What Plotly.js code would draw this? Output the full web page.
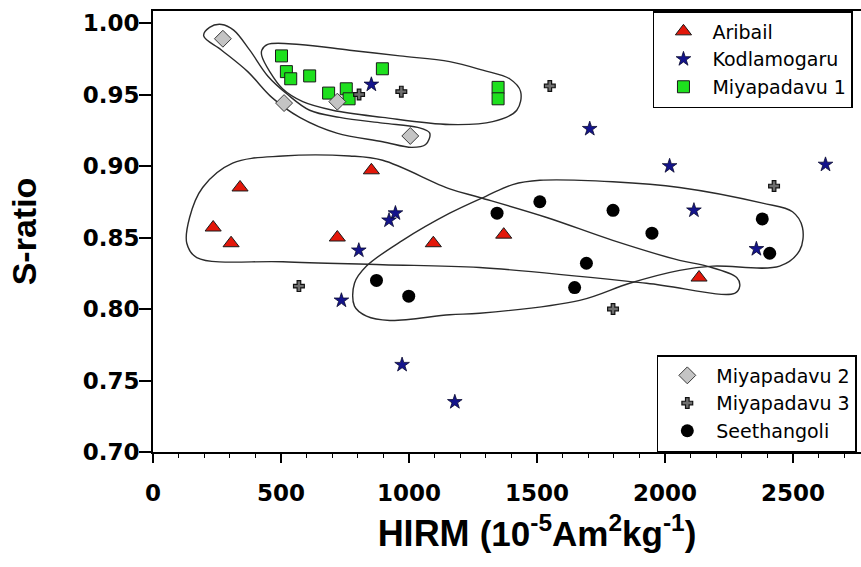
<!DOCTYPE html>
<html>
<head>
<meta charset="utf-8">
<script src="https://cdn.plot.ly/plotly-3.0.1.min.js"></script>
<style>
html, body { margin: 0; padding: 0; overflow: hidden; background: #ffffff; }
#chart { width: 940px; height: 567px; }
</style>
</head>
<body>
<div id="chart"></div>
<script>
// ---- data ----
const seriesNames = ["Aribail", "Kodlamogaru", "Miyapadavu 1", "Miyapadavu 2", "Miyapadavu 3", "Seethangoli"];

const aribailX = [340, 235, 305, 853, 720, 1095, 1370, 2133];
const aribailY = [0.885, 0.857, 0.846, 0.897, 0.850, 0.846, 0.852, 0.822];

const kodlamogaruX = [853, 1706, 2018, 2627, 2113, 2357, 947, 922, 804, 736, 973, 1179];
const kodlamogaruY = [0.957, 0.926, 0.900, 0.901, 0.869, 0.842, 0.867, 0.862, 0.841, 0.806, 0.761, 0.735];

const miyapadavu1X = [502, 521, 538, 612, 686, 755, 766, 896, 1348, 1348];
const miyapadavu1Y = [0.977, 0.966, 0.961, 0.963, 0.951, 0.954, 0.947, 0.968, 0.955, 0.947];

const miyapadavu2X = [273, 512, 720, 1005];
const miyapadavu2Y = [0.989, 0.944, 0.945, 0.921];

const miyapadavu3X = [805, 970, 1550, 2426, 570, 1797];
const miyapadavu3Y = [0.950, 0.952, 0.956, 0.886, 0.816, 0.800];

const seethangoliX = [1344, 1511, 1797, 1949, 2380, 2409, 1693, 1647, 873, 999];
const seethangoliY = [0.867, 0.875, 0.869, 0.853, 0.863, 0.839, 0.832, 0.815, 0.820, 0.809];

// hand-drawn group outlines (vertices)
const outlineM2X = [198, 221, 268, 315, 378, 448, 526, 612, 729, 897, 1034, 1081, 1065, 1011, 897, 718, 573, 464, 370, 268, 198];
const outlineM2Y = [0.991, 0.997, 0.999, 0.995, 0.981, 0.963, 0.950, 0.939, 0.934, 0.930, 0.927, 0.923, 0.915, 0.913, 0.917, 0.923, 0.934, 0.948, 0.966, 0.981, 0.991];

const outlineM1X = [425, 448, 573, 768, 964, 1159, 1288, 1393, 1436, 1421, 1327, 1159, 897, 702, 585, 506, 456, 425, 425];
const outlineM1Y = [0.981, 0.985, 0.985, 0.981, 0.977, 0.973, 0.967, 0.961, 0.952, 0.939, 0.931, 0.929, 0.934, 0.939, 0.945, 0.954, 0.966, 0.977, 0.981];

const outlineArX = [132, 143, 194, 311, 507, 768, 897, 1159, 1276, 1538, 1796, 2057, 2163, 2280, 2292, 2272, 1928, 1276, 897, 507, 171, 132];
const outlineArY = [0.846, 0.864, 0.885, 0.902, 0.907, 0.907, 0.904, 0.884, 0.878, 0.864, 0.848, 0.834, 0.830, 0.822, 0.816, 0.811, 0.818, 0.829, 0.831, 0.833, 0.836, 0.846];

const outlineSeX = [1302, 1405, 1511, 1796, 2057, 2381, 2498, 2537, 2526, 2448, 2187, 2057, 1862, 1667, 1276, 1159, 925, 834, 787, 787, 834, 975, 1159, 1302];
const outlineSeY = [0.879, 0.887, 0.890, 0.889, 0.885, 0.874, 0.868, 0.857, 0.841, 0.830, 0.830, 0.827, 0.818, 0.806, 0.797, 0.796, 0.792, 0.795, 0.802, 0.818, 0.830, 0.848, 0.867, 0.879];

const xTickVals = [0, 500, 1000, 1500, 2000, 2500];
const yTickVals = [0.70, 0.75, 0.80, 0.85, 0.90, 0.95, 1.00];

// ---- traces ----
function outline(x, y) {
  return { x: x, y: y, type: 'scatter', mode: 'lines', showlegend: false, hoverinfo: 'skip',
           line: { color: '#2b2b2b', width: 1.4, shape: 'spline', smoothing: 1.0 } };
}

const traces = [
  outline(outlineM2X, outlineM2Y),
  outline(outlineM1X, outlineM1Y),
  outline(outlineArX, outlineArY),
  outline(outlineSeX, outlineSeY),
  { name: seriesNames[0], x: aribailX, y: aribailY, type: 'scatter', mode: 'markers', legend: 'legend',
    marker: { symbol: 'triangle-up', size: 14, color: '#e3170a', line: { color: '#1a1a1a', width: 1 } } },
  { name: seriesNames[1], x: kodlamogaruX, y: kodlamogaruY, type: 'scatter', mode: 'markers', legend: 'legend',
    marker: { symbol: 'star', size: 11, color: '#14148c', line: { color: '#0a0a30', width: 0.8 } } },
  { name: seriesNames[2], x: miyapadavu1X, y: miyapadavu1Y, type: 'scatter', mode: 'markers', legend: 'legend',
    marker: { symbol: 'square', size: 12, color: '#1ee01e', line: { color: '#1a1a1a', width: 1 } } },
  { name: seriesNames[3], x: miyapadavu2X, y: miyapadavu2Y, type: 'scatter', mode: 'markers', legend: 'legend2',
    marker: { symbol: 'diamond', size: 13, color: '#c4c4c4', line: { color: '#3a3a3a', width: 1 } } },
  { name: seriesNames[4], x: miyapadavu3X, y: miyapadavu3Y, type: 'scatter', mode: 'markers', legend: 'legend2',
    marker: { symbol: 'cross', size: 9, color: '#6e6e6e', line: { color: '#111111', width: 1.2 } } },
  { name: seriesNames[5], x: seethangoliX, y: seethangoliY, type: 'scatter', mode: 'markers', legend: 'legend2',
    marker: { symbol: 'circle', size: 13, color: '#000000', line: { color: '#000000', width: 0 } } }
];

const tickFont = { family: 'DejaVu Sans', size: 23, color: '#000', weight: 'bold' };
const legendFont = { family: 'DejaVu Sans', size: 19, color: '#000' };

const layout = {
  width: 940, height: 567,
  margin: { l: 153, r: 19, t: 11, b: 115, autoexpand: false },
  paper_bgcolor: '#fff', plot_bgcolor: '#fff',
  showlegend: true,
  xaxis: {
    range: [0, 3000], tickvals: xTickVals, ticktext: xTickVals.map(String),
    showgrid: false, zeroline: false, showline: true, linecolor: '#000', linewidth: 2, mirror: true,
    ticks: 'outside', ticklen: 9, tickwidth: 2, tickcolor: '#000', tickfont: tickFont, ticklabelstandoff: 10,
    minor: { dtick: 100, tick0: 0, ticks: 'outside', ticklen: 4, tickwidth: 1, tickcolor: '#000', showgrid: false },
    title: { text: 'HIRM <span style="font-size:35px">(10<sup>-5</sup>Am<sup>2</sup>kg<sup>-1</sup>)</span>',
             font: { family: 'Liberation Sans', size: 36, color: '#000', weight: 'bold' }, standoff: 16 },
    automargin: false
  },
  yaxis: {
    range: [0.70, 1.0084], tickvals: yTickVals, ticktext: yTickVals.map(v => v.toFixed(2)),
    showgrid: false, zeroline: false, showline: true, linecolor: '#000', linewidth: 2, mirror: true,
    ticks: 'outside', ticklen: 12, tickwidth: 2, tickcolor: '#000', tickfont: tickFont, ticklabelstandoff: -5,
    title: { text: 'S-ratio', font: { family: 'Liberation Sans', size: 34, color: '#000', weight: 'bold' }, standoff: 36 },
    automargin: false
  },
  legend: {
    x: 0.651, xanchor: 'left', y: 1, yanchor: 'top',
    bgcolor: '#fff', bordercolor: '#000', borderwidth: 1.5,
    font: legendFont, itemwidth: 48, tracegroupgap: 0
  },
  legend2: {
    x: 0.656, xanchor: 'left', y: 0, yanchor: 'bottom',
    bgcolor: '#fff', bordercolor: '#000', borderwidth: 1.5,
    font: legendFont, itemwidth: 48, tracegroupgap: 0
  },
  hovermode: false
};

Plotly.newPlot('chart', traces, layout, { staticPlot: true, displayModeBar: false });
</script>
</body>
</html>
